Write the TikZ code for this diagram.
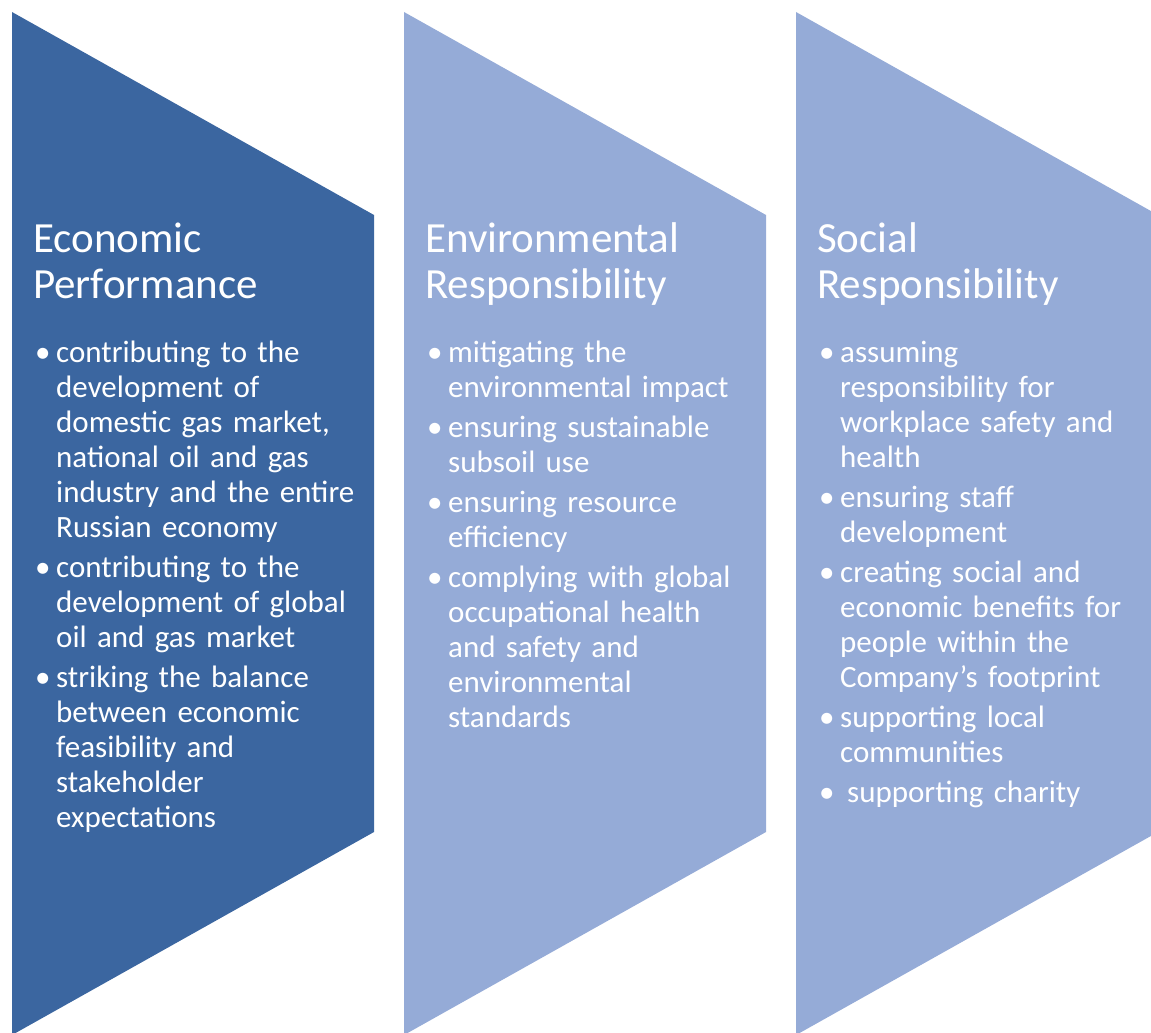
\documentclass[tikz,border=0pt]{standalone}
\usepackage{fontspec}
\setmainfont{Carlito}
\usepackage{tikz}

\definecolor{darkpanel}{RGB}{59,102,160}
\definecolor{palepanel}{RGB}{149,171,215}

\tikzset{
  chevron/.style={fill=#1, draw=none},
  headline/.style={anchor=north west, inner sep=0pt, text=white, text width=340pt,
    align=left, font=\fontsize{43}{46}\selectfont},
  pointlist/.style={anchor=north west, inner sep=0pt, text=white, text width=380pt,
    font=\fontsize{31}{35}\selectfont},
}
\newcommand{\bul}[1]{\par\hangindent=21pt\hangafter=1\noindent
  \makebox[21pt][l]{\strut•}#1\par\vspace{5pt}}

\begin{document}
\begin{tikzpicture}[x=1pt, y=-1pt]
            \clip (0,0) rectangle (1151,1033);
            % the three panels
            \fill[chevron=darkpanel] (12,12) -- ++(362,203) -- ++(0,617) -- ++(-362,203) -- cycle;
            \fill[chevron=palepanel] (404,12) -- ++(362,203) -- ++(0,617) -- ++(-362,203) -- cycle;
            \fill[chevron=palepanel] (796,12) -- ++(362,203) -- ++(0,617) -- ++(-362,203) -- cycle;
            % titles
            \node[headline] (econ title) at (33,219.8) {\strut Economic\\Performance};
            \node[headline] (env title) at (425,219.8) {\strut Environmental\\Responsibility};
            \node[headline] (soc title) at (817,219.8) {\strut Social\\Responsibility};
            % bullet lists
            \node[pointlist] (econ list) at (35,327.5) {%
              \bul{contributing to the\newline development of\newline domestic gas market,\newline national oil and gas\newline industry and the entire\newline Russian economy}%
              \bul{contributing to the\newline development of global\newline oil and gas market}%
              \bul{striking the balance\newline between economic\newline feasibility and\newline stakeholder\newline expectations}};
            \node[pointlist] (env list) at (427,327.5) {%
              \bul{mitigating the\newline environmental impact}%
              \bul{ensuring sustainable\newline subsoil use}%
              \bul{ensuring resource\newline efficiency}%
              \bul{complying with global\newline occupational health\newline and safety and\newline environmental\newline standards}};
            \node[pointlist] (soc list) at (819,327.5) {%
              \bul{assuming\newline responsibility for\newline workplace safety and\newline health}%
              \bul{ensuring staff\newline development}%
              \bul{creating social and\newline economic benefits for\newline people within the\newline Company’s footprint}%
              \bul{supporting local\newline communities}%
              \bul{\hspace{7pt}supporting charity}};
        \end{tikzpicture}
\end{document}
